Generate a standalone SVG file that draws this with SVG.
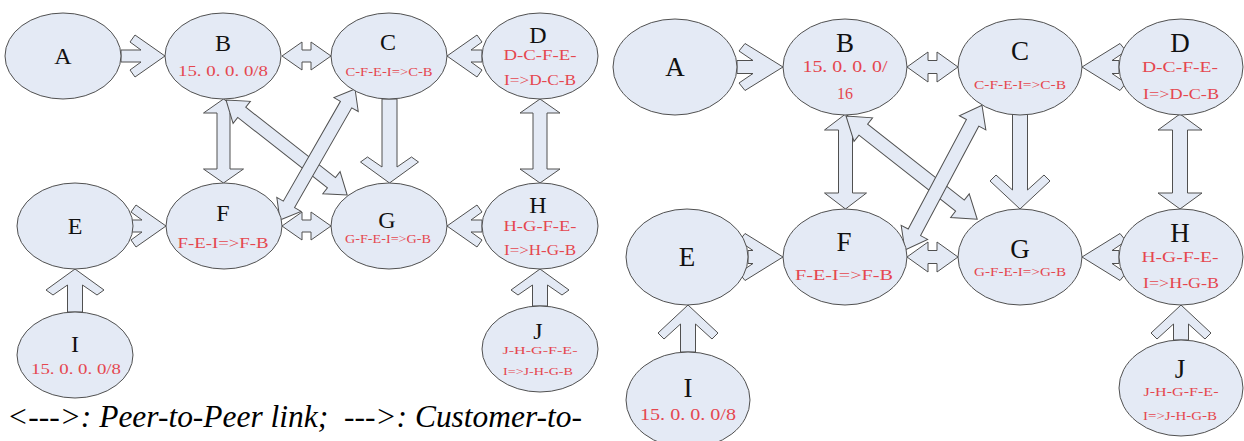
<svg xmlns="http://www.w3.org/2000/svg" width="1244" height="441" viewBox="0 0 1244 441">
<style>
.nd{fill:#e4eaf5;stroke:#505050;stroke-width:1}
.ar{fill:#e4eaf5;stroke:#505050;stroke-width:1}
.lb{font-family:'Liberation Serif','Times New Roman',Times,serif;fill:#111;text-anchor:middle}
.s1{font-size:24px}
.s2{font-size:27px}
.rd{font-family:'Liberation Serif','Times New Roman',Times,serif;fill:#e5474f;text-anchor:middle}
.lg{font-family:'Liberation Serif','Times New Roman',Times,serif;font-style:italic;font-size:31px;fill:#000}
</style>
<rect width="1244" height="441" fill="#fff"/>
<g id="connectors">
<polygon class="ar" transform="translate(165,56)" points="-44,-6 -24,-6 -35,-14 -30,-21 0,0 -30,21 -35,14 -24,6 -44,6"/>
<polygon class="ar" transform="translate(447,56) rotate(180)" points="-35,-6 -24,-6 -35,-14 -30,-21 0,0 -30,21 -35,14 -24,6 -35,6"/>
<polygon class="ar" transform="translate(166,226)" points="-34,-6 -24,-6 -35,-14 -30,-21 0,0 -30,21 -35,14 -24,6 -34,6"/>
<polygon class="ar" transform="translate(447,226) rotate(180)" points="-35,-6 -24,-6 -35,-14 -30,-21 0,0 -30,21 -35,14 -24,6 -35,6"/>
<polygon class="ar" transform="translate(389.5,183) rotate(90)" points="-84,-7.5 -16,-7.5 -26,-22 -21,-29 0,0 -21,29 -26,22 -16,7.5 -84,7.5"/>
<polygon class="ar" transform="translate(75,269) rotate(-90)" points="-43,-7.5 -16,-7.5 -26,-22 -21,-29 0,0 -21,29 -26,22 -16,7.5 -43,7.5"/>
<polygon class="ar" transform="translate(540,269) rotate(-90)" points="-37,-7.5 -16,-7.5 -26,-22 -21,-29 0,0 -21,29 -26,22 -16,7.5 -37,7.5"/>
<polygon class="ar" transform="translate(282,56)" points="0,0 20,-14 20,-6 29,-6 29,-14 49,0 29,14 29,6 20,6 20,14"/>
<polygon class="ar" transform="translate(282,226)" points="0,0 20,-14 20,-6 29,-6 29,-14 49,0 29,14 29,6 20,6 20,14"/>
<polygon class="ar" transform="translate(223.5,99) rotate(90)" points="0,0 14,-20 14,-6.5 70,-6.5 70,-20 84,0 70,20 70,6.5 14,6.5 14,20"/>
<polygon class="ar" transform="translate(540,99) rotate(90)" points="0,0 14,-20 14,-7 70,-7 70,-20 84,0 70,20 70,7 14,7 14,20"/>
<polygon class="ar" transform="translate(226,100) rotate(38.1)" points="0,0 20,-14 20,-6.5 134,-6.5 134,-14 154,0 134,14 134,6.5 20,6.5 20,14"/>
<polygon class="ar" transform="translate(280,220) rotate(-60.2)" points="0,0 18,-14 18,-6.5 133,-6.5 133,-14 151,0 133,14 133,6.5 18,6.5 18,14"/>
<polygon class="ar" transform="translate(783,67)" points="-46,-6.5 -30,-6.5 -44,-16 -38,-23.5 0,0 -38,23.5 -44,16 -30,6.5 -46,6.5"/>
<polygon class="ar" transform="translate(1082,67) rotate(180)" points="-37,-6.5 -30,-6.5 -44,-16 -38,-23.5 0,0 -38,23.5 -44,16 -30,6.5 -37,6.5"/>
<polygon class="ar" transform="translate(783,257)" points="-35,-6.5 -30,-6.5 -44,-16 -38,-23.5 0,0 -38,23.5 -44,16 -30,6.5 -35,6.5"/>
<polygon class="ar" transform="translate(1082,257) rotate(180)" points="-37,-6.5 -30,-6.5 -44,-16 -38,-23.5 0,0 -38,23.5 -44,16 -30,6.5 -37,6.5"/>
<polygon class="ar" transform="translate(1020,209) rotate(90)" points="-95,-7.5 -19,-7.5 -34,-24 -28,-30 0,0 -28,30 -34,24 -19,7.5 -95,7.5"/>
<polygon class="ar" transform="translate(688,305) rotate(-90)" points="-47,-7.5 -19,-7.5 -34,-24 -28,-30 0,0 -28,30 -34,24 -19,7.5 -47,7.5"/>
<polygon class="ar" transform="translate(1181,305) rotate(-90)" points="-35,-7.5 -19,-7.5 -34,-24 -28,-30 0,0 -28,30 -34,24 -19,7.5 -35,7.5"/>
<polygon class="ar" transform="translate(907,67)" points="0,0 21,-15 21,-6.5 30,-6.5 30,-15 51,0 30,15 30,6.5 21,6.5 21,15"/>
<polygon class="ar" transform="translate(907,257)" points="0,0 21,-15 21,-6.5 30,-6.5 30,-15 51,0 30,15 30,6.5 21,6.5 21,15"/>
<polygon class="ar" transform="translate(845.5,114) rotate(90)" points="0,0 16,-21 16,-7 79,-7 79,-21 95,0 79,21 79,7 16,7 16,21"/>
<polygon class="ar" transform="translate(1180,114) rotate(90)" points="0,0 16,-22 16,-7.5 79,-7.5 79,-22 95,0 79,22 79,7.5 16,7.5 16,22"/>
<polygon class="ar" transform="translate(846,116) rotate(38.2)" points="0,0 22,-15 22,-7 145,-7 145,-15 167,0 145,15 145,7 22,7 22,15"/>
<polygon class="ar" transform="translate(905,250) rotate(-62)" points="0,0 20,-15 20,-7 144,-7 144,-15 164,0 144,15 144,7 20,7 20,15"/>
</g>
<g id="L-A"><ellipse class="nd" cx="63" cy="56" rx="58" ry="43"/><text class="lb s1" x="63" y="64">A</text></g>
<g id="L-B"><ellipse class="nd" cx="223" cy="56" rx="58" ry="43"/><text class="lb s1" x="223" y="51">B</text><text class="rd" font-size="14" x="223" y="76" textLength="90" lengthAdjust="spacingAndGlyphs">15. 0. 0. 0/8</text></g>
<g id="L-C"><ellipse class="nd" cx="389" cy="56" rx="58" ry="43"/><text class="lb s1" x="388" y="50">C</text><text class="rd" font-size="12" x="389" y="76" textLength="87" lengthAdjust="spacingAndGlyphs">C-F-E-I=&gt;C-B</text></g>
<g id="L-D"><ellipse class="nd" cx="540" cy="56" rx="58" ry="43"/><text class="lb s1" x="538" y="43">D</text><text class="rd" font-size="14" x="540" y="60" textLength="73" lengthAdjust="spacingAndGlyphs">D-C-F-E-</text><text class="rd" font-size="14" x="540" y="85" textLength="72" lengthAdjust="spacingAndGlyphs">I=&gt;D-C-B</text></g>
<g id="L-E"><ellipse class="nd" cx="75" cy="226" rx="58" ry="43"/><text class="lb s1" x="75" y="234">E</text></g>
<g id="L-F"><ellipse class="nd" cx="224" cy="226" rx="58" ry="43"/><text class="lb s1" x="223" y="221">F</text><text class="rd" font-size="14" x="223" y="248" textLength="91" lengthAdjust="spacingAndGlyphs">F-E-I=&gt;F-B</text></g>
<g id="L-G"><ellipse class="nd" cx="389" cy="226" rx="58" ry="43"/><text class="lb s1" x="387" y="228">G</text><text class="rd" font-size="12" x="388" y="243" textLength="86" lengthAdjust="spacingAndGlyphs">G-F-E-I=&gt;G-B</text></g>
<g id="L-H"><ellipse class="nd" cx="540" cy="226" rx="58" ry="43"/><text class="lb s1" x="538" y="213">H</text><text class="rd" font-size="14" x="540" y="231" textLength="73" lengthAdjust="spacingAndGlyphs">H-G-F-E-</text><text class="rd" font-size="14" x="540" y="255" textLength="72" lengthAdjust="spacingAndGlyphs">I=&gt;H-G-B</text></g>
<g id="L-I"><ellipse class="nd" cx="75" cy="355" rx="58" ry="43"/><text class="lb s1" x="75" y="352">I</text><text class="rd" font-size="14" x="76" y="374" textLength="90" lengthAdjust="spacingAndGlyphs">15. 0. 0. 0/8</text></g>
<g id="L-J"><ellipse class="nd" cx="540" cy="349" rx="58" ry="43"/><text class="lb s1" x="538" y="339">J</text><text class="rd" font-size="11" x="540" y="354" textLength="75" lengthAdjust="spacingAndGlyphs">J-H-G-F-E-</text><text class="rd" font-size="11" x="538" y="375" textLength="70" lengthAdjust="spacingAndGlyphs">I=&gt;J-H-G-B</text></g>
<g id="R-A"><ellipse class="nd" cx="675" cy="67" rx="62" ry="48"/><text class="lb s2" x="675" y="76">A</text></g>
<g id="R-B"><ellipse class="nd" cx="845" cy="67" rx="62" ry="48"/><text class="lb s2" x="845" y="52">B</text><text class="rd" font-size="16" x="845" y="72" textLength="85" lengthAdjust="spacingAndGlyphs">15. 0. 0. 0/</text><text class="rd" font-size="16" x="845" y="99">16</text></g>
<g id="R-C"><ellipse class="nd" cx="1020" cy="67" rx="62" ry="48"/><text class="lb s2" x="1020" y="60">C</text><text class="rd" font-size="13" x="1020" y="89" textLength="92" lengthAdjust="spacingAndGlyphs">C-F-E-I=&gt;C-B</text></g>
<g id="R-D"><ellipse class="nd" cx="1181" cy="67" rx="62" ry="48"/><text class="lb s2" x="1180" y="52">D</text><text class="rd" font-size="15" x="1180" y="72" textLength="76" lengthAdjust="spacingAndGlyphs">D-C-F-E-</text><text class="rd" font-size="15" x="1181" y="99" textLength="76" lengthAdjust="spacingAndGlyphs">I=&gt;D-C-B</text></g>
<g id="R-E"><ellipse class="nd" cx="687" cy="257" rx="61" ry="48"/><text class="lb s2" x="687" y="266">E</text></g>
<g id="R-F"><ellipse class="nd" cx="845" cy="257" rx="62" ry="48"/><text class="lb s2" x="844" y="251">F</text><text class="rd" font-size="15" x="844" y="280" textLength="98" lengthAdjust="spacingAndGlyphs">F-E-I=&gt;F-B</text></g>
<g id="R-G"><ellipse class="nd" cx="1020" cy="257" rx="62" ry="48"/><text class="lb s2" x="1020" y="258">G</text><text class="rd" font-size="13" x="1020" y="276" textLength="92" lengthAdjust="spacingAndGlyphs">G-F-E-I=&gt;G-B</text></g>
<g id="R-H"><ellipse class="nd" cx="1181" cy="257" rx="62" ry="48"/><text class="lb s2" x="1180" y="242">H</text><text class="rd" font-size="15" x="1180" y="262" textLength="77" lengthAdjust="spacingAndGlyphs">H-G-F-E-</text><text class="rd" font-size="15" x="1181" y="288" textLength="76" lengthAdjust="spacingAndGlyphs">I=&gt;H-G-B</text></g>
<g id="R-I"><ellipse class="nd" cx="688" cy="400" rx="62" ry="48"/><text class="lb s2" x="688" y="397">I</text><text class="rd" font-size="16" x="688" y="420" textLength="96" lengthAdjust="spacingAndGlyphs">15. 0. 0. 0/8</text></g>
<g id="R-J"><ellipse class="nd" cx="1181" cy="388" rx="62" ry="48"/><text class="lb s2" x="1180" y="378">J</text><text class="rd" font-size="12" x="1181" y="396" textLength="75" lengthAdjust="spacingAndGlyphs">J-H-G-F-E-</text><text class="rd" font-size="12" x="1180" y="420" textLength="74" lengthAdjust="spacingAndGlyphs">I=&gt;J-H-G-B</text></g>
<text class="lg" x="7" y="427" xml:space="preserve" textLength="575" lengthAdjust="spacingAndGlyphs">&lt;---&gt;: Peer-to-Peer link;  ---&gt;: Customer-to-</text>
</svg>
